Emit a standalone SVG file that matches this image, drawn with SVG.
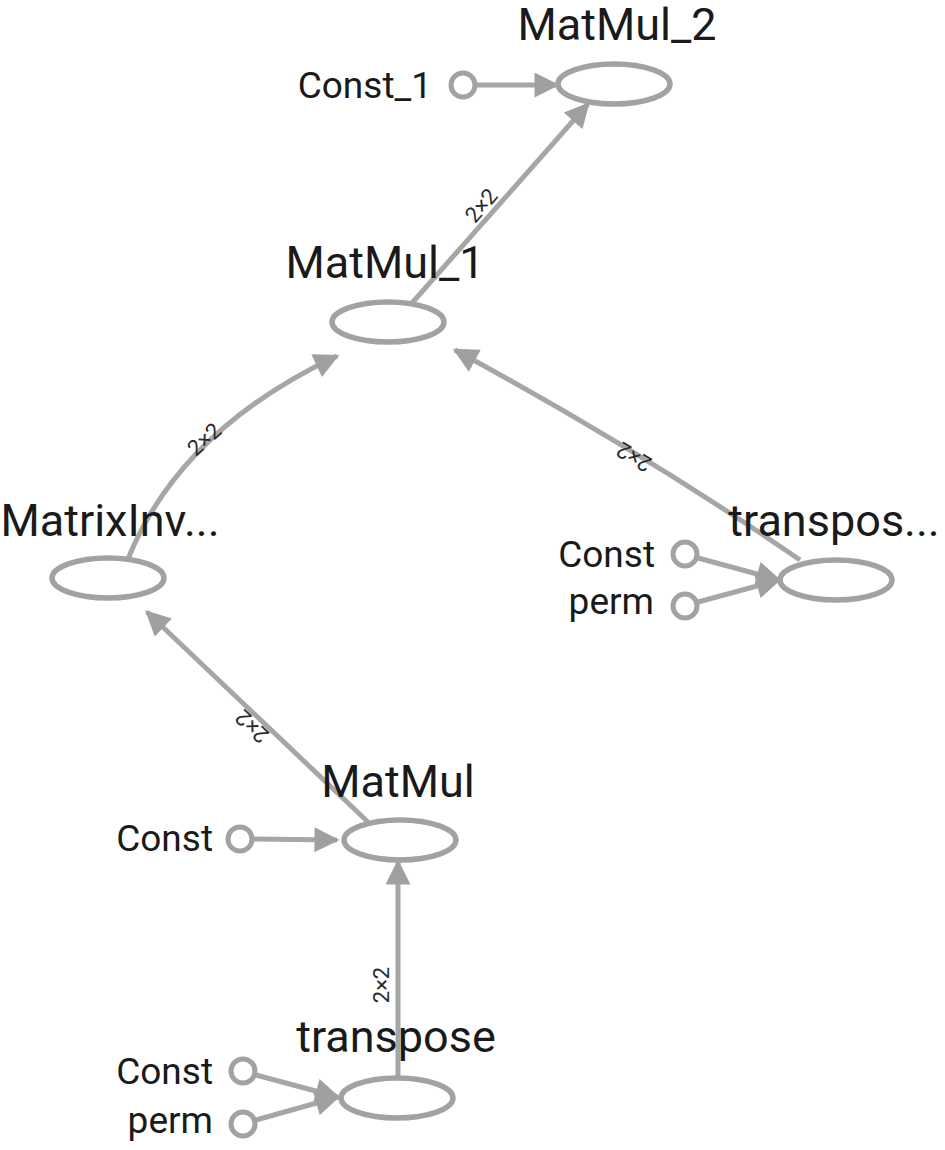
<svg xmlns="http://www.w3.org/2000/svg" width="945" height="1150" viewBox="0 0 945 1150">
<style>
.op{fill:#fff;stroke:#a2a2a2;stroke-width:5.5}
.cn{fill:#fff;stroke:#a2a2a2;stroke-width:5}
.e{fill:none;stroke:#a6a6a6;stroke-width:5}
.t{font-family:Roboto,"Liberation Sans",sans-serif;fill:#1a1a1a}
.big{font-size:45px;text-anchor:middle}
.sm{font-size:37px;text-anchor:end}
.el{font-family:Roboto,"Liberation Sans",sans-serif;font-size:22px;fill:#2a2a2a;text-anchor:middle}
</style>
<defs>
<marker id="ah" viewBox="0 0 10 10" refX="9" refY="5" markerUnits="userSpaceOnUse" markerWidth="26" markerHeight="25" orient="auto">
<path d="M0,0 L10,5 L0,10 z" fill="#a0a0a0"/>
</marker>
</defs>
<rect width="945" height="1150" fill="#fff"/>
<g id="connectors">
<path class="e" d="M476,85 L557,85" marker-end="url(#ah)"/>
<path class="e" d="M412,303 L588,104" marker-end="url(#ah)"/>
<path class="e" d="M128,559 Q180,430 337,356" marker-end="url(#ah)"/>
<path class="e" d="M800,560 Q640,450 455,350" marker-end="url(#ah)"/>
<path class="e" d="M368,822 L147,612" marker-end="url(#ah)"/>
<path class="e" d="M253,839 L337,840" marker-end="url(#ah)"/>
<path class="e" d="M398,1077 L398,862" marker-end="url(#ah)"/>
<path class="e" d="M256,1075 L338,1097" marker-end="url(#ah)"/>
<path class="e" d="M256,1120 L338,1097" marker-end="url(#ah)"/>
<path class="e" d="M698,558 L779,580" marker-end="url(#ah)"/>
<path class="e" d="M698,602 L779,580" marker-end="url(#ah)"/>
<text class="el" transform="translate(490,213) rotate(-49)" dy="-4">2×2</text>
<text class="el" transform="translate(212,448) rotate(-42)" dy="-4">2×2</text>
<text class="el" transform="translate(640,447) rotate(211)" dy="-4">2×2</text>
<text class="el" transform="translate(260,718) rotate(223.5)" dy="-4">2×2</text>
<text class="el" transform="translate(393,985) rotate(-90)" dy="-4">2×2</text>
</g>
<g id="MatMul_2">
<ellipse class="op" cx="614" cy="84" rx="56" ry="20"/>
<text class="t big" x="617" y="40">MatMul_2</text>
</g>
<g id="Const_1">
<circle class="cn" cx="463" cy="85" r="12"/>
<text class="t sm" x="432" y="98">Const_1</text>
</g>
<g id="MatMul_1">
<ellipse class="op" cx="388" cy="322" rx="56" ry="20"/>
<text class="t big" x="385" y="278">MatMul_1</text>
</g>
<g id="MatrixInv">
<ellipse class="op" cx="108" cy="578" rx="56" ry="20"/>
<text class="t big" x="110" y="536">MatrixInv...</text>
</g>
<g id="transpose_1">
<ellipse class="op" cx="836" cy="580" rx="56" ry="20"/>
<text class="t big" x="834" y="536">transpos...</text>
</g>
<g id="Const_t1">
<circle class="cn" cx="685" cy="554" r="12"/>
<text class="t sm" x="655" y="567">Const</text>
</g>
<g id="perm_t1">
<circle class="cn" cx="685" cy="606" r="12"/>
<text class="t sm" x="654" y="614">perm</text>
</g>
<g id="MatMul">
<ellipse class="op" cx="400" cy="840" rx="56" ry="20"/>
<text class="t big" x="398" y="797">MatMul</text>
</g>
<g id="Const_m">
<circle class="cn" cx="240" cy="839" r="12"/>
<text class="t sm" x="213" y="851">Const</text>
</g>
<g id="transpose">
<ellipse class="op" cx="397" cy="1098" rx="56" ry="20"/>
<text class="t big" x="396" y="1052">transpose</text>
</g>
<g id="Const_t">
<circle class="cn" cx="243" cy="1071" r="12"/>
<text class="t sm" x="213" y="1084">Const</text>
</g>
<g id="perm_t">
<circle class="cn" cx="243" cy="1124" r="12"/>
<text class="t sm" x="213" y="1133">perm</text>
</g>
</svg>
